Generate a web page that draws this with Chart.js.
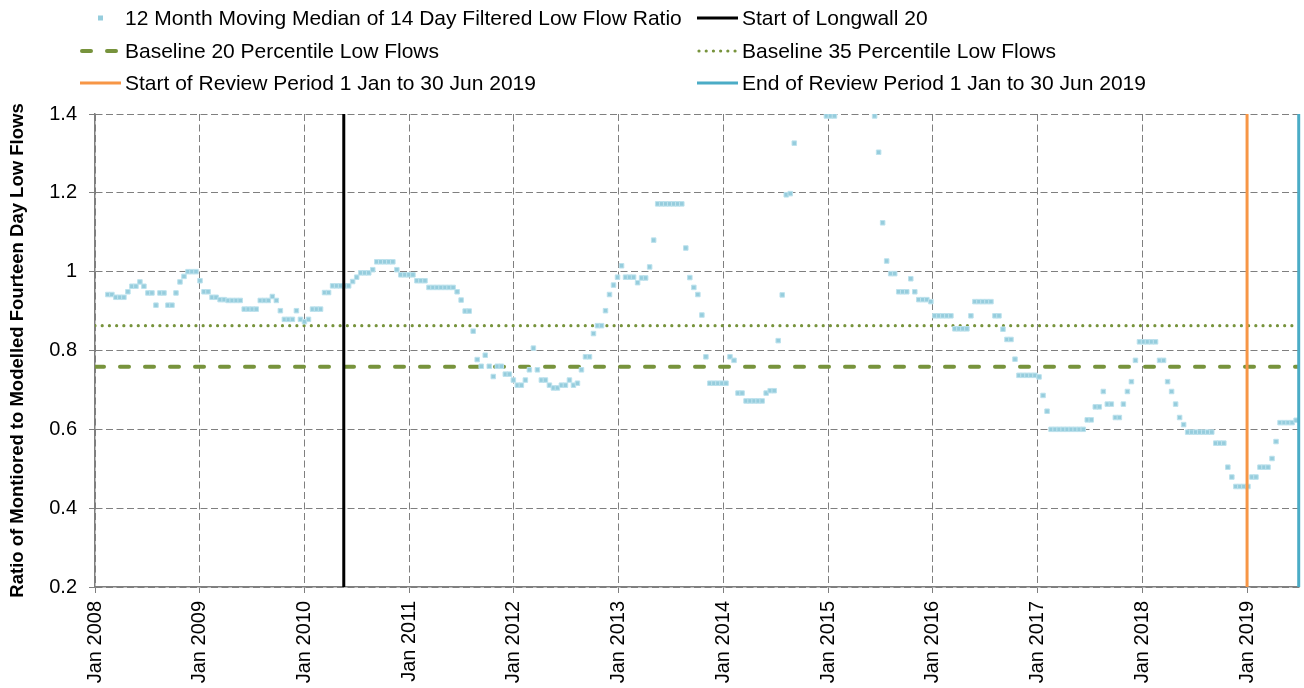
<!DOCTYPE html>
<html lang="en">
<head>
    <meta charset="UTF-8">
    <title>Low Flow Ratio</title>
    <style>
        html, body { margin: 0; padding: 0; background: #fff; }
        #wrap { position: relative; width: 1304px; height: 688px; }
        #legend { position: absolute; left: 0; top: 0; width: 1304px; height: 100px;
                  font-family: "Liberation Sans", Arial, sans-serif; font-size: 21px; color: #000; }
        .item { position: absolute; display: flex; align-items: center; height: 26px; white-space: nowrap; }
        .item svg { margin-right: 4px; display: block; }
    </style>
</head>
<body>
<div id="wrap">
    <canvas id="myChart" width="1304" height="688"></canvas>
    <div id="legend"></div>
</div>
<script src="https://cdn.jsdelivr.net/npm/chart.js"></script>
<script>
    // 12 month moving median, one value every 14 days from sampleStart (null = above axis range)
    const sampleStart = '2008-02-15';
    const sampleStepDays = 14;
    const ratio = [
        0.942, 0.942, 0.935, 0.935, 0.935, 0.949, 0.963, 0.963, 0.974, 0.963,
        0.946, 0.946, 0.915, 0.946, 0.946, 0.915, 0.915, 0.946, 0.974, 0.988,
        1.0, 1.0, 1.0, 0.977, 0.949, 0.949, 0.935, 0.935, 0.929, 0.929,
        0.927, 0.927, 0.927, 0.927, 0.905, 0.905, 0.905, 0.905, 0.927, 0.927,
        0.927, 0.937, 0.927, 0.901, 0.879, 0.879, 0.879, 0.901, 0.879, 0.873,
        0.879, 0.905, 0.905, 0.905, 0.947, 0.947, 0.964, 0.964, 0.964, 0.964,
        0.964, 0.975, 0.986, 0.997, 0.997, 0.997, 1.005, 1.025, 1.025, 1.025,
        1.025, 1.025, 1.005, 0.992, 0.992, 0.992, 0.992, 0.977, 0.977, 0.977,
        0.960, 0.960, 0.960, 0.960, 0.960, 0.960, 0.960, 0.949, 0.928, 0.900,
        0.900, 0.849, 0.777, 0.760, 0.788, 0.760, 0.734, 0.760, 0.760, 0.740,
        0.740, 0.725, 0.712, 0.712, 0.725, 0.751, 0.806, 0.751, 0.725, 0.725,
        0.712, 0.705, 0.705, 0.712, 0.712, 0.725, 0.712, 0.717, 0.751, 0.784,
        0.784, 0.843, 0.863, 0.863, 0.901, 0.942, 0.966, 0.986, 1.015, 0.986,
        0.986, 0.986, 0.972, 0.984, 0.984, 1.012, 1.080, 1.172, 1.172, 1.172,
        1.172, 1.172, 1.172, 1.172, 1.060, 0.985, 0.960, 0.942, 0.890, 0.784,
        0.717, 0.717, 0.717, 0.717, 0.717, 0.784, 0.775, 0.692, 0.692, 0.672,
        0.672, 0.672, 0.672, 0.672, 0.692, 0.698, 0.698, 0.825, 0.941, 1.195,
        1.198, 1.326, null, null, null, null, null, null, null, 1.395,
        1.395, 1.395, null, null, null, null, null, null, null, null,
        null, 1.395, 1.303, 1.124, 1.027, 0.995, 0.995, 0.949, 0.949, 0.949,
        0.982, 0.949, 0.929, 0.929, 0.929, 0.924, 0.888, 0.888, 0.888, 0.888,
        0.888, 0.855, 0.855, 0.855, 0.855, 0.888, 0.924, 0.924, 0.924, 0.924,
        0.924, 0.888, 0.888, 0.854, 0.828, 0.828, 0.778, 0.737, 0.737, 0.737,
        0.737, 0.737, 0.733, 0.686, 0.646, 0.600, 0.600, 0.600, 0.600, 0.600,
        0.600, 0.600, 0.600, 0.600, 0.624, 0.624, 0.657, 0.657, 0.696, 0.664,
        0.664, 0.630, 0.630, 0.664, 0.696, 0.721, 0.775, 0.822, 0.822, 0.822,
        0.822, 0.822, 0.775, 0.775, 0.721, 0.696, 0.664, 0.630, 0.612, 0.593,
        0.593, 0.593, 0.593, 0.593, 0.593, 0.593, 0.565, 0.565, 0.565, 0.504,
        0.479, 0.455, 0.455, 0.455, 0.455, 0.479, 0.479, 0.504, 0.504, 0.504,
        0.526, 0.569, 0.617, 0.617, 0.617, 0.617, 0.623
    ];

    const baseline20 = 0.759;
    const baseline35 = 0.863;
    const longwallStart = '2010-05-18';
    const reviewStart = '2019-01-01';
    const reviewEnd = '2019-06-30';

    const axisStart = '2008-01-01';
    const axisEnd = '2019-07-01';
    const yearTicks = [2008, 2009, 2010, 2011, 2012, 2013, 2014, 2015, 2016, 2017, 2018, 2019];
    const yMin = 0.2, yMax = 1.4, yStep = 0.2;

    const seriesLabels = [
        '12 Month Moving Median of 14 Day Filtered Low Flow Ratio',
        'Start of Longwall 20',
        'Baseline 20 Percentile Low Flows',
        'Baseline 35 Percentile Low Flows',
        'Start of Review Period 1 Jan to 30 Jun 2019',
        'End of Review Period 1 Jan to 30 Jun 2019'
    ];

    // date string -> decimal year
    function toYear(d) {
        if (typeof d === 'string') d = new Date(d + 'T00:00:00Z');
        const y = d.getUTCFullYear();
        const a = Date.UTC(y, 0, 1), b = Date.UTC(y + 1, 0, 1);
        return y + (d.getTime() - a) / (b - a);
    }

    const startMs = new Date(sampleStart + 'T00:00:00Z').getTime();
    const ratioPoints = [];
    ratio.forEach(function (v, i) {
        if (v === null) return;
        ratioPoints.push({ x: toYear(new Date(startMs + i * sampleStepDays * 86400000)), y: v });
    });

    const xMin = toYear(axisStart), xMax = toYear(axisEnd);
    function vline(date) { return [{ x: toYear(date), y: yMin }, { x: toYear(date), y: yMax }]; }
    function hline(v) { return [{ x: xMin, y: v }, { x: xMax, y: v }]; }

    const font = { family: '"Liberation Sans", Arial, sans-serif', size: 20 };
    const gridCol = '#7f7f7f';
    const vClip = { left: 5, right: 5, top: 0, bottom: 0 };

    var ctx = document.getElementById('myChart').getContext('2d');
    var chart = new Chart(ctx, {
        type: 'scatter',
        data: {
            datasets: [{
                label: seriesLabels[0],
                type: 'scatter',
                data: ratioPoints,
                pointStyle: 'rect',
                pointRadius: 3.2,
                backgroundColor: '#96cddd',
                borderColor: '#bde2ed',
                borderWidth: 1,
                order: 1
            }, {
                label: seriesLabels[1],
                type: 'line',
                data: vline(longwallStart),
                borderColor: '#000000',
                borderWidth: 3,
                pointRadius: 0,
                clip: vClip,
                order: 0
            }, {
                label: seriesLabels[2],
                type: 'line',
                data: hline(baseline20),
                borderColor: '#77933c',
                borderWidth: 4,
                borderDash: [9, 16],
                borderCapStyle: 'round',
                pointRadius: 0,
                order: 2
            }, {
                label: seriesLabels[3],
                type: 'line',
                data: hline(baseline35),
                borderColor: '#77933c',
                borderWidth: 3.2,
                borderDash: [0.01, 7.2],
                borderCapStyle: 'round',
                pointRadius: 0,
                order: 2
            }, {
                label: seriesLabels[4],
                type: 'line',
                data: vline(reviewStart),
                borderColor: '#f79646',
                borderWidth: 3,
                pointRadius: 0,
                clip: vClip,
                order: 0
            }, {
                label: seriesLabels[5],
                type: 'line',
                data: vline(reviewEnd),
                borderColor: '#4bacc6',
                borderWidth: 3,
                pointRadius: 0,
                clip: vClip,
                order: 0
            }]
        },
        options: {
            responsive: false,
            animation: false,
            events: [],
            layout: { padding: { top: 114, right: 4, left: 0, bottom: 0 } },
            plugins: { legend: { display: false }, tooltip: { enabled: false } },
            scales: {
                x: {
                    type: 'linear',
                    min: xMin,
                    max: xMax,
                    afterBuildTicks: function (s) { s.ticks = yearTicks.map(function (v) { return { value: v }; }); },
                    afterFit: function (s) { s.height = 101; },
                    ticks: {
                        autoSkip: false, minRotation: 90, maxRotation: 90, padding: 8,
                        color: '#000', font: font,
                        callback: function (v) { return 'Jan ' + v; }
                    },
                    grid: { color: gridCol, lineWidth: 1, tickLength: 6, tickColor: gridCol },
                    border: { color: gridCol, width: 1.5, dash: [7, 3.5] }
                },
                y: {
                    min: yMin, max: yMax,
                    afterFit: function (s) { s.width = 95; },
                    ticks: {
                        stepSize: yStep, padding: 12, color: '#000', font: font,
                        callback: function (v) { return String(Number(v.toFixed(1))); }
                    },
                    grid: { color: gridCol, lineWidth: 1, tickLength: 6, tickColor: gridCol },
                    border: { color: gridCol, width: 1.5, dash: [7, 3.5] },
                    title: {
                        display: true,
                        text: 'Ratio of Montiored to Modelled Fourteen Day Low Flows',
                        color: '#000',
                        font: { family: '"Liberation Sans", Arial, sans-serif', size: 18.5, weight: 'bold' },
                        padding: { top: 6.5, bottom: 0 }
                    }
                }
            }
        }
    });

    // two column legend, built from the datasets
    const slots = [[80, 18], [697, 18], [80, 50.5], [697, 50.5], [80, 82.5], [697, 82.5]];
    const legendEl = document.getElementById('legend');
    chart.data.datasets.forEach(function (ds, i) {
        let svg;
        if (ds.type === 'scatter') {
            svg = '<svg width="41" height="10"><rect x="18" y="2.5" width="5" height="5" fill="' + ds.backgroundColor + '"/></svg>';
        } else {
            const dash = ds.borderDash ? ds.borderDash.join(' ') : 'none';
            const cap = ds.borderCapStyle || 'butt';
            const x1 = ds.borderDash ? 2 : 0;
            svg = '<svg width="41" height="10"><line x1="' + x1 + '" y1="5" x2="41" y2="5" stroke="' + ds.borderColor +
                '" stroke-width="' + ds.borderWidth + '" stroke-dasharray="' + dash + '" stroke-linecap="' + cap + '"/></svg>';
        }
        const el = document.createElement('div');
        el.className = 'item';
        el.style.left = slots[i][0] + 'px';
        el.style.top = (slots[i][1] - 13) + 'px';
        el.innerHTML = svg + '<span>' + ds.label + '</span>';
        legendEl.appendChild(el);
    });
</script>
</body>
</html>
